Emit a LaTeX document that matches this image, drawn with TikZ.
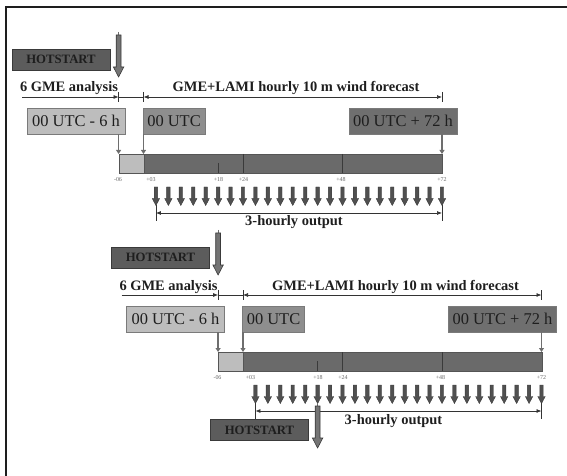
\documentclass[tikz,border=0pt]{standalone}
\usepackage{fontspec}
\setmainfont{Liberation Serif}
\usetikzlibrary{arrows.meta}
\definecolor{txt}{HTML}{1E1E1E}
\definecolor{hotfill}{HTML}{5C5C5C}
\definecolor{hotedge}{HTML}{3A3A3A}
\definecolor{lightbox}{HTML}{BDBDBD}
\definecolor{midbox}{HTML}{8E8E8E}
\definecolor{darkbox}{HTML}{6F6F6F}
\definecolor{utcedge}{HTML}{7A7A7A}
\definecolor{barlight}{HTML}{BDBDBD}
\definecolor{bardark}{HTML}{6A6A6A}
\definecolor{baredge}{HTML}{555555}
\definecolor{dimcol}{HTML}{333333}
\definecolor{bigfill}{HTML}{747474}
\definecolor{smallfill}{HTML}{505050}
\definecolor{ticktxt}{HTML}{666666}
\definecolor{downcol}{HTML}{6E6E6E}
\begin{document}
\begin{tikzpicture}[x=1bp,y=-1bp,
  hotbox/.style={draw=hotedge, fill=hotfill, line width=0.8bp, minimum width=98bp, minimum height=21bp, inner sep=0pt, text=txt, font=\fontsize{12.8}{12.8}\selectfont\bfseries},
  utcbox/.style={draw=utcedge, line width=0.8bp, minimum height=26bp, inner sep=0pt, text=txt, font=\fontsize{16.5}{16.5}\selectfont},
  lbl/.style={inner sep=0pt, anchor=base, text=txt, font=\fontsize{14.5}{14.5}\selectfont\bfseries},
  ticklbl/.style={inner sep=0pt, text=ticktxt, font=\fontsize{6}{6}\selectfont},
  dim/.style={draw=dimcol, line width=0.7bp},
  tipr/.style={dim, -{Latex[length=5bp,width=4bp]}},
  tiplr/.style={dim, {Latex[length=5bp,width=4bp]}-{Latex[length=5bp,width=4bp]}},
  tickmark/.style={draw=dimcol, line width=0.7bp},
  downarr/.style={draw=downcol, line width=1.4bp, -{Triangle[length=4bp,width=5bp]}},
  barpart/.style={draw=baredge, line width=0.6bp, minimum height=19bp, inner sep=0pt, anchor=north west},
  divider/.style={draw=hotedge, line width=0.8bp},
  hotthin/.style={draw=downcol, line width=0.8bp},
  frameline/.style={draw=txt, line width=2bp},
  bigarrow/.pic={\filldraw[fill=bigfill, draw=hotedge, line width=0.6bp]
     (-2.4,0) -- (2.4,0) -- (2.4,32) -- (5.2,32) -- (0,42) -- (-5.2,32) -- (-2.4,32) -- cycle;},
  smallarrow/.pic={\filldraw[fill=smallfill, draw=hotedge, line width=0.4bp]
     (-1.7,0) -- (1.7,0) -- (1.7,11.5) -- (3.7,11.5) -- (0,18.5) -- (-3.7,11.5) -- (-1.7,11.5) -- cycle;}
]
\useasboundingbox (0,0) rectangle (567,476);
\draw[frameline] (6,477) -- (6,7.5) -- (568,7.5);

\foreach \r in {1,2}{
 \pgfmathsetmacro{\dx}{(\r-1)*99.5}
 \pgfmathsetmacro{\dy}{(\r-1)*198}
 \begin{scope}[shift={(\dx,\dy)}]
  % hotstart
  \node[hotbox] (hs\r) at (61,59.5) {HOTSTART};
  \coordinate (hat\r) at (118.6,32);
  \coordinate (hab\r) at (118.6,36);
  \draw[hotthin] (hat\r) -- (hab\r);
  \pic at (118.6,35) {bigarrow};
  % top labels and dimension lines
  \node[lbl] (ga\r) at (69,92) {6 GME analysis};
  \node[lbl] (gl\r) at (296,92) {GME+LAMI hourly 10 m wind forecast};
  \coordinate (da\r) at (22,97);
  \coordinate (db\r) at (118.6,97);
  \coordinate (dc\r) at (143.5,97);
  \coordinate (dd\r) at (442,97);
  \draw[tipr] (da\r) -- (db\r);
  \draw[dim] (db\r) -- (dc\r);
  \draw[tiplr] (dc\r) -- (dd\r);
  \draw[tickmark] (118.6,92) -- (118.6,102);
  \draw[tickmark] (143.5,92) -- (143.5,102);
  \draw[tickmark] (442,92) -- (442,102);
  % boxes
  \node[utcbox, fill=lightbox, minimum width=98bp] (ua\r) at (76,121) {00 UTC - 6 h};
  \node[utcbox, fill=midbox, minimum width=62bp] (ub\r) at (174,121) {00 UTC};
  \node[utcbox, fill=darkbox, minimum width=108bp] (uc\r) at (403,121) {00 UTC + 72 h};
  % bar
  \node[barpart, fill=barlight, minimum width=24.9bp] (bl\r) at (118.6,154) {};
  \node[barpart, fill=bardark, minimum width=298.5bp] (bd\r) at (143.5,154) {};
  \coordinate (ta\r) at (118.6,154);
  \coordinate (tb\r) at (143.5,154);
  \coordinate (tc\r) at (442,154);
  \draw[downarr] (ua\r.south -| ta\r) -- (ta\r);
  \draw[downarr] (ub\r.south -| tb\r) -- (tb\r);
  \draw[downarr] (uc\r.south -| tc\r) -- (tc\r);
  \draw[divider] (243,154) -- (243,173);
  \draw[divider] (342.5,154) -- (342.5,173);
  \draw[divider] (218.1,163) -- (218.1,173);
  % tick labels
  \node[ticklbl] (l06\r) at (118,180) {-06};
  \node[ticklbl] (l03\r) at (151,180) {+03};
  \node[ticklbl] (l18\r) at (218.5,180) {+18};
  \node[ticklbl] (l24\r) at (243.5,180) {+24};
  \node[ticklbl] (l48\r) at (341,180) {+48};
  \node[ticklbl] (l72\r) at (442,180) {+72};
  % 3-hourly output arrows
  \foreach \k in {1,...,24}{
    \pic at ({143.5+12.4375*\k},187) {smallarrow};
  }
  \coordinate (oa\r) at (155.9,213);
  \coordinate (ob\r) at (442,213);
  \draw[tiplr] (oa\r) -- (ob\r);
  \draw[tickmark] (155.9,205) -- (155.9,221);
  \draw[tickmark] (442,205) -- (442,221);
  \node[lbl] (oh\r) at (294,226) {3-hourly output};
 \end{scope}
}

% third hotstart
\node[hotbox] (hs3) at (259.5,430) {HOTSTART};
\coordinate (hat3) at (317.6,403);
\coordinate (hab3) at (317.6,407);
\draw[hotthin] (hat3) -- (hab3);
\pic at (317.6,406) {bigarrow};
\end{tikzpicture}
\end{document}
